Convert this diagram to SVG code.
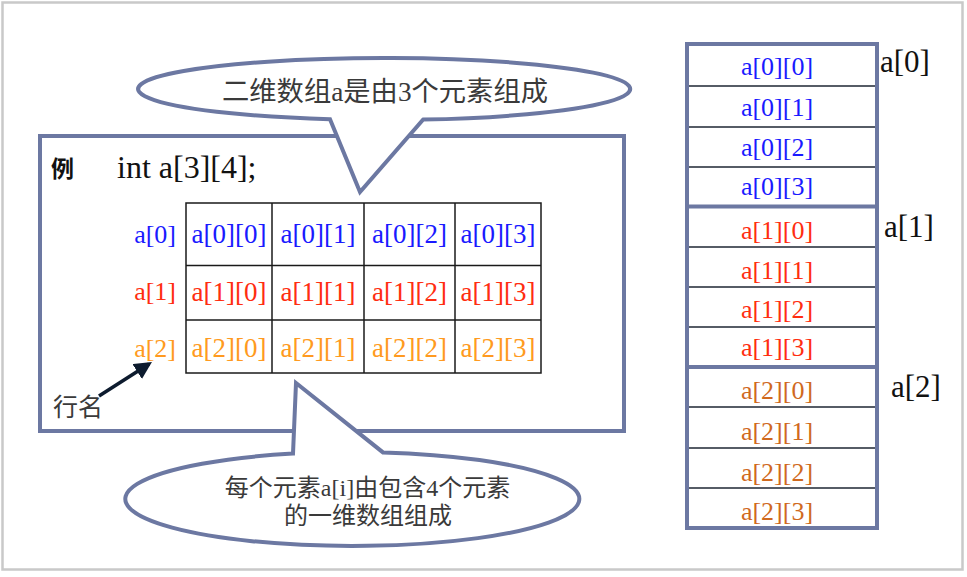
<svg xmlns="http://www.w3.org/2000/svg" width="967" height="577" viewBox="0 0 967 577">
<defs>
<style>
.frame{fill:#ffffff;stroke:#c9c9c9;stroke-width:2.5}
.box{fill:#ffffff;stroke:#6c78a2;stroke-width:4}
.callout{fill:#ffffff;stroke:#6c78a2;stroke-width:4;stroke-linejoin:miter}
.grid{stroke:#1a1a1a;stroke-width:1.5;fill:none}
.thin{stroke:#1e2633;stroke-width:1.5}
.sep{stroke:#6c78a2;stroke-width:4}
.t{font-family:"Liberation Serif","Noto Sans CJK SC",serif}
.cj{font-family:"Liberation Serif","Noto Sans CJK SC",serif;fill:#3a3a3a}
.cell{font-family:"Liberation Serif",serif;font-size:27px;text-anchor:middle}
.mem{font-family:"Liberation Serif",serif;font-size:26px;text-anchor:middle}
.b{fill:#1a1aff}.r{fill:#ff2d10}.o{fill:#ff9a20}.o2{fill:#d0691e}
</style>
<marker id="ah" viewBox="0 0 10 10" refX="8" refY="5" markerWidth="5" markerHeight="5" orient="auto" markerUnits="strokeWidth">
<path d="M0,0 L10,5 L0,10 Z" fill="#0d1b2e"/>
</marker>
</defs>
<rect class="frame" x="2.5" y="2.5" width="960" height="567"/>

<g id="example-box">
<rect class="box" x="40" y="136" width="584" height="295"/>
<text class="t" x="51" y="177" font-size="23" font-weight="bold" fill="#111">例</text>
<text class="t" x="117" y="178" font-size="32" fill="#111">int a[3][4];</text>
</g>

<g id="matrix">
<rect class="grid" x="186" y="203" width="355" height="170"/>
<line class="grid" x1="186" y1="265.5" x2="541" y2="265.5"/>
<line class="grid" x1="186" y1="320" x2="541" y2="320"/>
<line class="grid" x1="272" y1="203" x2="272" y2="373"/>
<line class="grid" x1="364" y1="203" x2="364" y2="373"/>
<line class="grid" x1="455" y1="203" x2="455" y2="373"/>
<text class="cell b" x="229" y="243">a[0][0]</text>
<text class="cell b" x="318" y="243">a[0][1]</text>
<text class="cell b" x="409.5" y="243">a[0][2]</text>
<text class="cell b" x="498" y="243">a[0][3]</text>
<text class="cell r" x="229" y="301">a[1][0]</text>
<text class="cell r" x="318" y="301">a[1][1]</text>
<text class="cell r" x="409.5" y="301">a[1][2]</text>
<text class="cell r" x="498" y="301">a[1][3]</text>
<text class="cell o" x="229" y="357">a[2][0]</text>
<text class="cell o" x="318" y="357">a[2][1]</text>
<text class="cell o" x="409.5" y="357">a[2][2]</text>
<text class="cell o" x="498" y="357">a[2][3]</text>
</g>

<g id="row-labels">
<text class="t b" x="176" y="243" font-size="26" text-anchor="end">a[0]</text>
<text class="t r" x="176" y="300" font-size="26" text-anchor="end">a[1]</text>
<text class="t o" x="176" y="357" font-size="26" text-anchor="end">a[2]</text>
<text class="cj" x="53" y="416" font-size="25" fill="#222">行名</text>
</g>

<g id="connectors">
<line x1="99" y1="396" x2="149" y2="364" stroke="#0d1b2e" stroke-width="3.5" marker-end="url(#ah)"/>
</g>

<g id="callout-top">
<path class="callout" d="M330 119.24 L360 192 L423 119.61 A246 31 0 1 0 330 119.24 Z"/>
<text class="cj" x="385" y="101" font-size="27" text-anchor="middle" textLength="326" lengthAdjust="spacingAndGlyphs">二维数组a是由3个元素组成</text>
</g>

<g id="callout-bottom">
<path class="callout" d="M293 453.6 L296 383 L383 452.4 A227 47 0 1 1 293 453.6 Z"/>
<text class="cj" x="367.5" y="496" font-size="24" text-anchor="middle">每个元素a[i]由包含4个元素</text>
<text class="cj" x="368" y="524" font-size="24" text-anchor="middle">的一维数组组成</text>
</g>

<g id="memory">
<rect class="box" x="687" y="44" width="190" height="484"/>
<line class="thin" x1="689" y1="86" x2="875" y2="86"/>
<line class="thin" x1="689" y1="127" x2="875" y2="127"/>
<line class="thin" x1="689" y1="167" x2="875" y2="167"/>
<line class="sep" x1="689" y1="206.5" x2="875" y2="206.5"/>
<line class="thin" x1="689" y1="247" x2="875" y2="247"/>
<line class="thin" x1="689" y1="287" x2="875" y2="287"/>
<line class="thin" x1="689" y1="327" x2="875" y2="327"/>
<line class="sep" x1="689" y1="367" x2="875" y2="367"/>
<line class="thin" x1="689" y1="407" x2="875" y2="407"/>
<line class="thin" x1="689" y1="448" x2="875" y2="448"/>
<line class="thin" x1="689" y1="488" x2="875" y2="488"/>
<text class="mem b" x="777" y="75">a[0][0]</text>
<text class="mem b" x="777" y="116">a[0][1]</text>
<text class="mem b" x="777" y="156">a[0][2]</text>
<text class="mem b" x="777" y="195">a[0][3]</text>
<text class="mem r" x="777" y="239">a[1][0]</text>
<text class="mem r" x="777" y="279">a[1][1]</text>
<text class="mem r" x="777" y="318">a[1][2]</text>
<text class="mem r" x="777" y="356">a[1][3]</text>
<text class="mem o2" x="777" y="399">a[2][0]</text>
<text class="mem o2" x="777" y="440">a[2][1]</text>
<text class="mem o2" x="777" y="481">a[2][2]</text>
<text class="mem o2" x="777" y="520">a[2][3]</text>
</g>

<g id="memory-labels">
<text class="t" x="880" y="72" font-size="31" fill="#111">a[0]</text>
<text class="t" x="884" y="237" font-size="31" fill="#111">a[1]</text>
<text class="t" x="891" y="397" font-size="31" fill="#111">a[2]</text>
</g>
</svg>
